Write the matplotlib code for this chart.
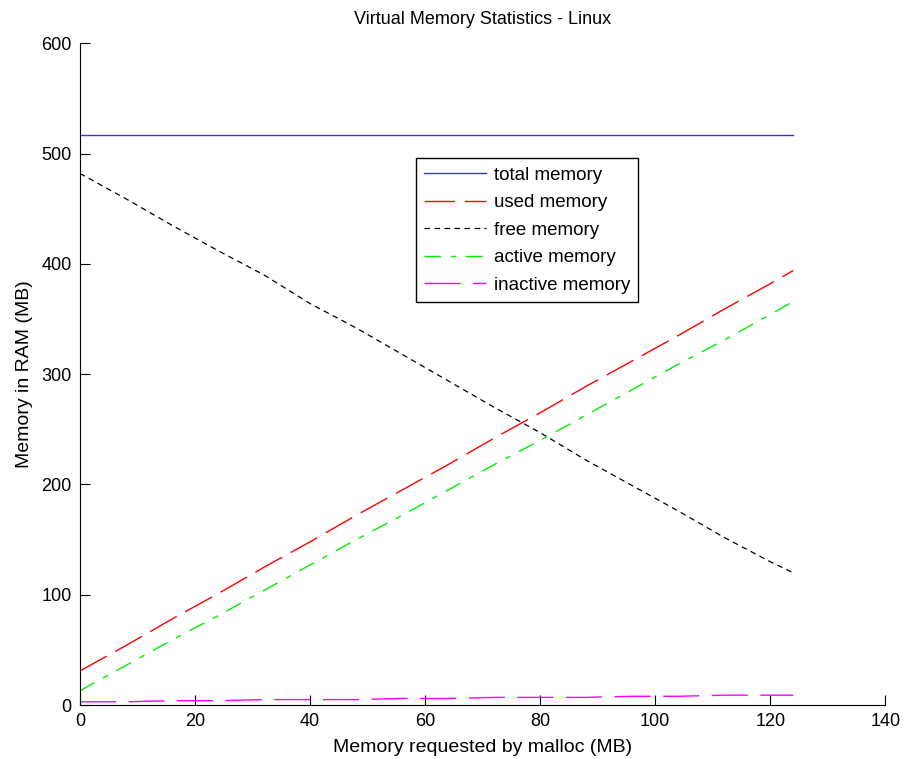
import matplotlib.pyplot as plt

plt.rcParams['font.family'] = ['Liberation Sans', 'DejaVu Sans']

# Memory requested by malloc (MB)
requested = [0, 8, 16, 24, 32, 40, 48, 56, 64, 72, 80, 88, 96, 104, 112, 120, 124]

# Memory in RAM (MB)
total_mem = [517] * len(requested)
used_mem = [31, 54, 78, 101, 125, 148, 172, 195, 218, 242, 265, 289, 312, 335, 359, 382, 394]
free_mem = [482, 459, 435, 412, 390, 364, 342, 318, 294, 270, 247, 222, 199, 176, 152, 130, 120]
active_mem = [13, 36, 59, 81, 104, 127, 150, 172, 195, 218, 240, 263, 286, 309, 331, 354, 366]
inactive_mem = [3, 3, 4, 4, 5, 5, 5, 6, 6, 7, 7, 7, 8, 8, 9, 9, 9]

fig = plt.figure(figsize=(9.08, 7.59), dpi=100)
ax = fig.add_axes([0.088, 0.071, 0.887, 0.872])

ax.plot(requested, total_mem, color='#3030ff', lw=1.0, label='total memory')
ax.plot(requested, used_mem, color='#ff0000', lw=1.0, dashes=(22, 7), label='used memory')
ax.plot(requested, free_mem, color='black', lw=0.9, dashes=(4.5, 3.5), label='free memory')
ax.plot(requested, active_mem, color='#00ee00', lw=1.0, dashes=(12, 7, 4, 7), label='active memory')
ax.plot(requested, inactive_mem, color='#ff00ff', lw=1.0, dashes=(26, 9), label='inactive memory')

ax.set_xlim(0, 140)
ax.set_ylim(0, 600)
ax.set_xticks(range(0, 141, 20))
ax.set_yticks(range(0, 601, 100))
ax.tick_params(direction='in', length=7, width=0.8, labelsize=13, pad=6)
ax.spines['top'].set_visible(False)
ax.spines['right'].set_visible(False)

ax.set_xlabel('Memory requested by malloc (MB)', fontsize=14, labelpad=6)
ax.set_ylabel('Memory in RAM (MB)', fontsize=14, labelpad=6)
ax.set_title('Virtual Memory Statistics - Linux', fontsize=13, pad=14)

leg = ax.legend(loc='upper left', bbox_to_anchor=(0.417, 0.826), fontsize=13.5,
                fancybox=False, framealpha=1, edgecolor='black',
                handlelength=3.3, handletextpad=0.4, borderpad=0.45,
                labelspacing=0.55, borderaxespad=0)
leg.get_frame().set_linewidth(1.0)

fig.savefig('out.png', dpi=100)
